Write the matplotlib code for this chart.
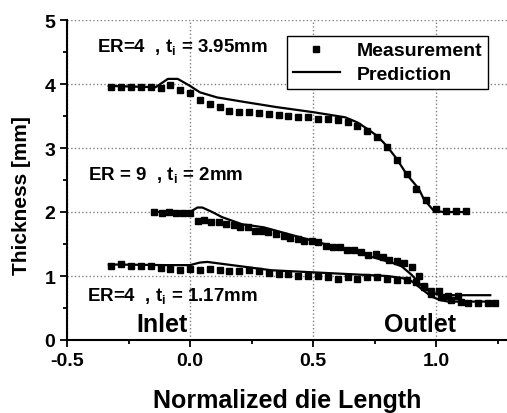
import matplotlib
matplotlib.use('Agg')
import matplotlib.pyplot as plt

plt.rcParams['font.family'] = ['Liberation Sans', 'DejaVu Sans']
plt.rcParams['font.weight'] = 'bold'
plt.rcParams['mathtext.fontset'] = 'custom'
plt.rcParams['mathtext.rm'] = 'Liberation Sans:bold'
plt.rcParams['mathtext.it'] = 'Liberation Sans:bold'
plt.rcParams['mathtext.bf'] = 'Liberation Sans:bold'

# ER=4, ti=3.95mm
m1_x = [-0.32, -0.28, -0.24, -0.20, -0.16, -0.12, -0.08, -0.04, 0.00, 0.04, 0.08, 0.12,
        0.16, 0.20, 0.24, 0.28, 0.32, 0.36, 0.40, 0.44, 0.48, 0.52, 0.56, 0.60, 0.64,
        0.68, 0.72, 0.76, 0.80, 0.84, 0.88, 0.92, 0.96, 1.00, 1.04, 1.08, 1.12]
m1_y = [3.95, 3.95, 3.95, 3.95, 3.95, 3.93, 3.98, 3.91, 3.86, 3.75, 3.69, 3.64,
        3.58, 3.57, 3.56, 3.54, 3.53, 3.52, 3.50, 3.49, 3.48, 3.46, 3.45, 3.43, 3.40,
        3.35, 3.27, 3.17, 3.02, 2.81, 2.60, 2.36, 2.18, 2.05, 2.02, 2.02, 2.02]
p1_x = [-0.33, -0.14, -0.09, -0.05, 0.00, 0.04, 0.11, 0.22, 0.35, 0.50, 0.63, 0.68,
        0.72, 0.76, 0.80, 0.84, 0.88, 0.93, 0.95, 0.99, 1.03, 1.13]
p1_y = [3.97, 3.95, 4.08, 4.08, 3.97, 3.87, 3.79, 3.72, 3.64, 3.56, 3.48, 3.40,
        3.30, 3.19, 3.03, 2.83, 2.59, 2.36, 2.20, 2.02, 2.00, 2.00]

# ER=9, ti=2mm
m2_x = [-0.145, -0.115, -0.084, -0.057, -0.03, 0.0, 0.031, 0.058, 0.085, 0.119, 0.146,
        0.177, 0.204, 0.234, 0.264, 0.291, 0.318, 0.35, 0.381, 0.408, 0.438, 0.465,
        0.495, 0.522, 0.553, 0.58, 0.611, 0.638, 0.668, 0.695, 0.725, 0.756, 0.783,
        0.81, 0.84, 0.87, 0.90, 0.93, 0.95, 0.98, 1.01, 1.05, 1.09]
m2_y = [2.00, 1.98, 2.00, 1.98, 1.98, 1.98, 1.86, 1.88, 1.85, 1.84, 1.82,
        1.80, 1.76, 1.76, 1.71, 1.71, 1.68, 1.66, 1.62, 1.60, 1.58, 1.55,
        1.54, 1.53, 1.47, 1.45, 1.45, 1.41, 1.40, 1.37, 1.33, 1.34, 1.29,
        1.25, 1.24, 1.20, 1.14, 1.00, 0.83, 0.76, 0.77, 0.69, 0.69]
p2_x = [-0.15, 0.00, 0.03, 0.05, 0.09, 0.13, 0.21, 0.30, 0.50, 0.82, 0.86, 0.90,
        0.94, 0.98, 1.02, 1.22]
p2_y = [2.00, 2.00, 2.07, 2.07, 2.00, 1.92, 1.81, 1.76, 1.55, 1.21, 1.15, 1.02,
        0.85, 0.74, 0.70, 0.70]

# ER=4, ti=1.17mm
m3_x = [-0.32, -0.28, -0.24, -0.20, -0.16, -0.12, -0.08, -0.04, 0.00, 0.04, 0.08, 0.12,
        0.16, 0.20, 0.24, 0.28, 0.32, 0.36, 0.40, 0.44, 0.48, 0.52, 0.56, 0.60, 0.64,
        0.68, 0.72, 0.76, 0.80, 0.84, 0.88, 0.92, 0.95, 0.98, 1.02, 1.06, 1.10, 1.13,
        1.17, 1.21, 1.24]
m3_y = [1.16, 1.18, 1.16, 1.15, 1.15, 1.12, 1.11, 1.09, 1.11, 1.10, 1.11, 1.09,
        1.08, 1.08, 1.09, 1.08, 1.05, 1.03, 1.03, 1.00, 1.00, 1.00, 0.99, 0.96, 0.98,
        0.96, 0.98, 0.98, 0.96, 0.94, 0.93, 0.91, 0.85, 0.72, 0.67, 0.62, 0.59, 0.58,
        0.58, 0.58, 0.58]
p3_x = [-0.33, -0.10, 0.00, 0.04, 0.07, 0.13, 0.33, 0.80, 0.86, 0.90, 0.94, 0.98,
        1.02, 1.05, 1.22]
p3_y = [1.18, 1.17, 1.17, 1.21, 1.22, 1.19, 1.09, 1.00, 0.97, 0.92, 0.80, 0.68,
        0.62, 0.60, 0.60]

fig = plt.figure(figsize=(5.07, 4.14), dpi=100)
ax = fig.add_axes([67 / 507, 1 - 341 / 414, 440 / 507, 320 / 414])

msty = dict(linestyle='none', marker='s', color='k', markersize=5)
lsty = dict(linestyle='-', color='k', linewidth=1.6)
ax.plot(m1_x, m1_y, label='Measurement', **msty)
ax.plot(p1_x, p1_y, label='Prediction', **lsty)
ax.plot(m2_x, m2_y, **msty)
ax.plot(p2_x, p2_y, **lsty)
ax.plot(m3_x, m3_y, **msty)
ax.plot(p3_x, p3_y, **lsty)

ax.set_xlim(-0.5, 1.288)
ax.set_ylim(0, 5)
ax.set_xticks([-0.5, 0.0, 0.5, 1.0])
ax.set_xticks([-0.25, 0.25, 0.75, 1.25], minor=True)
ax.set_yticks([0, 1, 2, 3, 4, 5])
ax.set_yticks([0.5, 1.5, 2.5, 3.5, 4.5], minor=True)
ax.set_xticklabels(['-0.5', '0.0', '0.5', '1.0'])
ax.tick_params(which='both', direction='out', width=1.3, labelsize=14)
ax.tick_params(which='major', length=5)
ax.tick_params(which='minor', length=3)
for s in ['top', 'right']:
    ax.spines[s].set_visible(False)
for s in ['left', 'bottom']:
    ax.spines[s].set_linewidth(1.5)
ax.grid(True, which='major', linestyle=':', color='gray', linewidth=1)
ax.set_axisbelow(True)

ax.set_xlabel('Normalized die Length', fontsize=18, fontweight='bold', labelpad=14)
ax.set_ylabel('Thickness [mm]', fontsize=15, fontweight='bold')
ax.yaxis.set_label_coords(-0.082, 0.455)

ax.text(-0.378, 4.59, r'ER=4  , t$_\mathrm{i}$ = 3.95mm', fontsize=13.5, va='center')
ax.text(-0.415, 2.59, r'ER = 9  , t$_\mathrm{i}$ = 2mm', fontsize=13.5, va='center')
ax.text(-0.42, 0.70, r'ER=4  , t$_\mathrm{i}$ = 1.17mm', fontsize=13.5, va='center')
ax.text(-0.22, 0.25, 'Inlet', fontsize=18, va='center')
ax.text(0.79, 0.25, 'Outlet', fontsize=18, va='center')

leg = ax.legend(loc='upper left', bbox_to_anchor=(0.5, 0.95), borderaxespad=0,
                numpoints=1, fontsize=14, frameon=True, fancybox=False,
                handlelength=2.4, borderpad=0.3, labelspacing=0.3,
                handletextpad=0.9)
leg.get_frame().set_edgecolor('k')
leg.get_frame().set_linewidth(1)
leg.get_frame().set_alpha(1)

fig.savefig('out.png', dpi=100)
